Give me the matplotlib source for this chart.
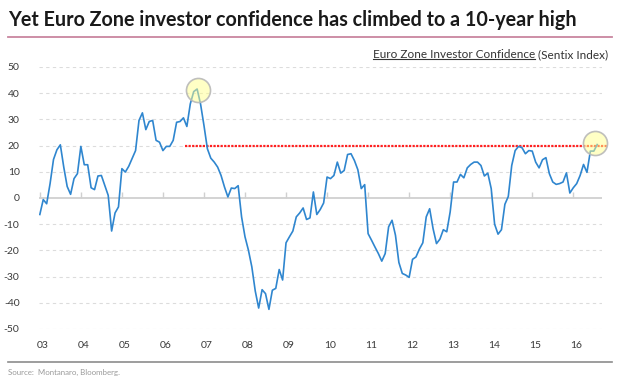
import matplotlib
matplotlib.use("Agg")
import matplotlib.pyplot as plt
from matplotlib.lines import Line2D
import numpy as np
import pandas as pd

# Sentix index, monthly, Jan 2003 - Aug 2016
sentix = [
    -6.3, -0.6, -2.2, 5.5, 14.7, 18.4, 20.3, 11.8, 4.4, 1.4, 7.4, 9.3,
    19.7, 12.7, 12.7, 3.9, 3.2, 8.4, 8.6, 4.8, 1.0, -12.6, -5.7, -3.4,
    11.2, 9.9, 12.1, 15.1, 18.1, 29.6, 32.5, 26.1, 29.2, 29.6, 22.0, 21.3,
    18.1, 19.7, 19.7, 22.0, 28.9, 29.2, 30.6, 27.3, 35.9, 40.6, 41.6, 35.9,
    27.7, 18.8, 15.2, 13.7, 11.8, 8.6, 4.2, 0.4, 3.8, 3.6, 4.7, -7.2,
    -14.8, -19.9, -26.3, -35.5, -42.0, -35.0, -36.5, -42.5, -35.2, -34.5, -27.3, -31.3,
    -17.1, -14.8, -12.6, -7.2, -5.7, -3.8, -8.2, -7.6, 2.3, -6.3, -4.4, -1.9,
    8.0, 7.4, 8.6, 13.7, 9.5, 10.5, 16.6, 16.9, 14.3, 10.8, 3.6, 5.1,
    -13.6, -16.1, -18.7, -21.2, -24.1, -21.2, -11.0, -8.5, -14.2, -24.6, -28.8, -29.4,
    -30.3, -23.4, -22.5, -19.5, -17.1, -7.2, -4.1, -11.7, -17.4, -15.7, -12.1, -12.9,
    -5.3, 6.1, 6.1, 9.0, 7.7, 11.5, 12.8, 13.7, 13.7, 12.4, 8.4, 9.5,
    3.6, -10.0, -13.8, -12.1, -2.4, 0.6, 12.4, 18.1, 19.7, 19.2, 16.9, 18.1,
    17.9, 13.7, 11.5, 14.6, 15.4, 9.3, 6.1, 5.2, 5.5, 6.1, 9.6, 1.9,
    3.9, 5.5, 8.6, 12.8, 9.8, 17.9, 17.9, 20.4,
]
dates = pd.date_range("2003-01-01", periods=len(sentix), freq="MS")
xyear = dates.year + (dates.month - 1) / 12.0

years = list(range(2003, 2017))
year_labels = ["%02d" % (y % 100) for y in years]
yticks = list(range(-50, 51, 10))

level_y = 20
level_x = [2006.55, 2016.82]
circle_x = [2006.85, 2016.54]
circle_y = [41.1, 21.1]

plt.rcParams['font.family'] = ['Lato', 'DejaVu Sans']

fig = plt.figure(figsize=(6.28, 3.81), dpi=100)
W, H = 628, 381
ax = fig.add_axes([39 / W, 1 - 329 / H, (602 - 39) / W, (329 - 67) / H])

ax.set_xlim(2002.98, 2016.70)
ax.set_ylim(-50, 50)
for s in ax.spines.values():
    s.set_visible(False)

# gridlines
for v in yticks:
    if v != 0:
        ax.axhline(v, color="#DCDCDC", lw=0.8, ls=(0, (3, 3)), zorder=0)
ax.axhline(0, color="#D0D0D0", lw=1.3, zorder=1)

ax.set_yticks(yticks)
ax.set_yticklabels([str(v) for v in yticks])
ax.tick_params(axis="y", length=0, pad=14, labelsize=7.5, labelcolor="#3A3A3A")
ax.set_xticks([y + 0.065 for y in years])
ax.set_xticklabels(year_labels)
ax.tick_params(axis="x", length=0, pad=9, labelsize=7.5, labelcolor="#3A3A3A")

# tick marks on the zero line
sec = ax.secondary_xaxis((0 - (-50)) / 100.0)
sec.set_xticks(years)
sec.set_xticklabels([])
sec.tick_params(axis="x", direction="out", length=4, color="#D0D0D0", width=1)
for s in sec.spines.values():
    s.set_visible(False)

ax.plot(xyear, sentix, color="#2F86CF", lw=1.2, zorder=3)

ax.plot(level_x, [level_y, level_y], color="#FF2020", lw=1.6, ls=(0, (1, 0.6)),
        zorder=2, clip_on=False)

ax.scatter(circle_x, circle_y, s=300, facecolor=(1.0, 1.0, 0.55, 0.5),
           edgecolor=(0.72, 0.72, 0.72, 0.9), linewidth=1.2, zorder=4, clip_on=False)

# title and rules
fig.text(8 / W, 1 - 20 / H, "Yet Euro Zone investor confidence has climbed to a 10-year high",
         fontsize=14.2, fontweight="bold", color="#1A1A1A", va="center", ha="left")
fig.add_artist(Line2D([8 / W, 612 / W], [1 - 37 / H, 1 - 37 / H], color="#C9869F", lw=1.3))
fig.add_artist(Line2D([8 / W, 612 / W], [1 - 362 / H, 1 - 362 / H], color="#8C8C8C", lw=1.2))

fig.text(8 / W, 1 - 372 / H, "Source:  Montanaro, Bloomberg.", fontsize=5.7,
         color="#9A9A9A", va="center", ha="left")

# subtitle with underlined part
t2 = fig.text(608 / W, 1 - 55 / H, " (Sentix Index)", fontsize=8.5, color="#333333",
              va="center", ha="right")
fig.canvas.draw()
r = fig.canvas.get_renderer()
bb2 = t2.get_window_extent(r)
t1 = fig.text(bb2.x0 / W, 1 - 55 / H, "Euro Zone Investor Confidence", fontsize=8.5,
              color="#333333", va="center", ha="right")
fig.canvas.draw()
bb1 = t1.get_window_extent(r)
uy = (bb1.y0 + 1.5) / H
fig.add_artist(Line2D([bb1.x0 / W, bb1.x1 / W], [uy, uy], color="#333333", lw=0.8))

fig.savefig("out.png", dpi=100)
